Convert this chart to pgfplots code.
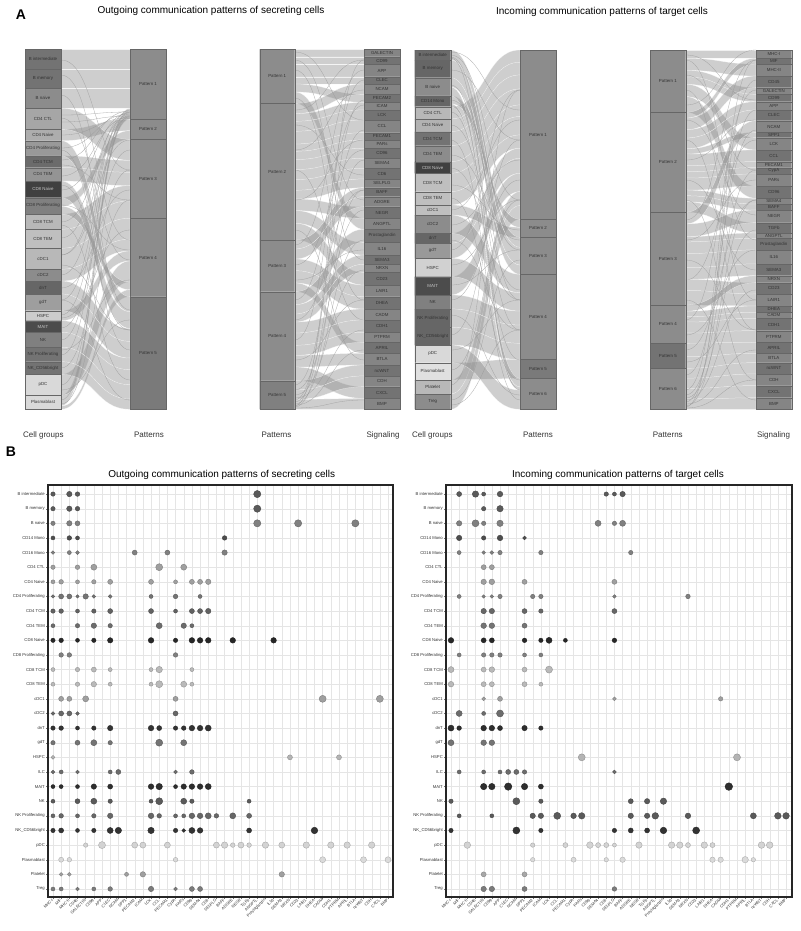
\documentclass[border=0pt]{standalone}
\usepackage{fontspec}
\setmainfont{Liberation Sans}
\usepackage{pgfplots}
\usepackage{pgfplotstable}
\pgfplotsset{compat=1.18}

\tikzset{
 ribbon/.style={fill=black!45, fill opacity=0.42, draw=white, draw opacity=0.7, line width=0.25pt},
 flowline/.style={draw=black!40, line width=0.3pt, opacity=0.8},
 blk/.style={font=\fontsize{4.4}{5}\selectfont, text=black!80, inner sep=0pt}
}
\newcommand{\rib}[7]{\path[ribbon] (axis cs:#1,#4) .. controls (axis cs:#3,#4) and (axis cs:#3,#6) .. (axis cs:#2,#6) -- (axis cs:#2,#7) .. controls (axis cs:#3,#7) and (axis cs:#3,#5) .. (axis cs:#1,#5) -- cycle;}
\newcommand{\lin}[5]{\path[flowline] (axis cs:#1,#4) .. controls (axis cs:#3,#4) and (axis cs:#3,#5) .. (axis cs:#2,#5);}
\newcommand{\ribA}[4]{\rib{61}{130}{95.5}{#1}{#2}{#3}{#4}}
\newcommand{\ribB}[4]{\rib{294.7}{364}{329.3}{#1}{#2}{#3}{#4}}
\newcommand{\ribC}[4]{\rib{450.7}{520}{485.3}{#1}{#2}{#3}{#4}}
\newcommand{\ribD}[4]{\rib{685.7}{756}{720.8}{#1}{#2}{#3}{#4}}
\newcommand{\linA}[2]{\lin{61}{130}{95.5}{#1}{#2}}
\newcommand{\linB}[2]{\lin{294.7}{364}{329.3}{#1}{#2}}
\newcommand{\linC}[2]{\lin{450.7}{520}{485.3}{#1}{#2}}
\newcommand{\linD}[2]{\lin{685.7}{756}{720.8}{#1}{#2}}
\newcommand{\blk}[6]{\addplot[fill=black!#5, draw=black!60, line width=0.4pt] coordinates {(#1,#3) (#2,#3) (#2,#4) (#1,#4) (#1,#3)};
 \path (axis cs:#1,#3) -- node[blk] {#6} (axis cs:#2,#4);}
\newcommand{\blkd}[6]{\addplot[fill=black!#5, draw=black!60, line width=0.4pt] coordinates {(#1,#3) (#2,#3) (#2,#4) (#1,#4) (#1,#3)};
 \path (axis cs:#1,#3) -- node[blk, text=black!22] {#6} (axis cs:#2,#4);}

\pgfplotstableread{
x y r g
0 0 2.2 .35
2 0 2.7 .35
3 0 2.3 .35
25 0 3.6 .35
0 1 2.2 .35
2 1 2.7 .35
3 1 2.3 .35
25 1 3.6 .35
0 2 2.2 .5
2 2 2.7 .5
3 2 2.5 .5
25 2 3.6 .5
30 2 3.6 .5
37 2 3.6 .5
0 3 2 .3
2 3 2.3 .3
3 3 2 .3
21 3 2.3 .3
0 4 1.8 .5
2 4 2 .5
3 4 1.9 .5
10 4 2.5 .5
14 4 2.5 .5
21 4 2.7 .5
0 5 2.2 .62
3 5 2.3 .62
5 5 3 .62
13 5 3.5 .62
16 5 3 .62
0 6 2 .62
1 6 2.3 .62
3 6 2 .62
5 6 2.2 .62
7 6 2.5 .62
12 6 2.5 .62
15 6 2 .62
17 6 2.5 .62
18 6 2.5 .62
19 6 2.7 .62
0 7 1.7 .45
1 7 2.5 .45
2 7 2.5 .45
3 7 1.7 .45
4 7 2.7 .45
5 7 1.8 .45
7 7 1.9 .45
12 7 2 .45
15 7 2.3 .45
18 7 2 .45
0 8 2.2 .38
1 8 2.3 .38
3 8 2 .38
5 8 2.2 .38
7 8 2.5 .38
12 8 2.5 .38
15 8 2 .38
17 8 2.5 .38
18 8 2.5 .38
19 8 2.7 .38
0 9 2 .42
3 9 2.2 .42
5 9 2.7 .42
7 9 2.2 .42
13 9 3 .42
16 9 2.7 .42
17 9 2 .42
0 10 2.2 .15
1 10 2.3 .15
3 10 2 .15
5 10 2.2 .15
7 10 2.7 .15
12 10 2.8 .15
15 10 2.2 .15
17 10 2.8 .15
18 10 2.8 .15
19 10 2.8 .15
22 10 2.8 .15
27 10 2.8 .15
1 11 2.3 .5
2 11 2.3 .5
15 11 2.3 .5
0 12 2 .72
3 12 2.2 .72
5 12 2.5 .72
7 12 2 .72
12 12 2 .72
13 12 3.2 .72
17 12 2 .72
0 13 2 .72
3 13 2.2 .72
5 13 2.7 .72
7 13 2 .72
12 13 2 .72
13 13 3.5 .72
16 13 3 .72
17 13 2 .72
1 14 2.5 .62
2 14 2.5 .62
4 14 3 .62
15 14 2.5 .62
33 14 3.5 .62
40 14 3.5 .62
0 15 1.9 .4
1 15 2.5 .4
2 15 2.5 .4
3 15 1.9 .4
15 15 2.5 .4
0 16 2.2 .2
1 16 2.3 .2
3 16 2 .2
5 16 2.2 .2
7 16 2.7 .2
12 16 2.8 .2
13 16 2.5 .2
15 16 2.2 .2
16 16 2.3 .2
17 16 2.8 .2
18 16 2.8 .2
19 16 3 .2
0 17 2.2 .45
3 17 2.5 .45
5 17 3 .45
7 17 2.2 .45
13 17 3.5 .45
16 17 3 .45
0 18 1.9 .7
29 18 2.5 .7
35 18 2.5 .7
0 19 1.9 .42
1 19 2 .42
3 19 1.9 .42
7 19 2 .42
8 19 2.5 .42
15 19 1.9 .42
17 19 2.3 .42
0 20 2 .18
1 20 2 .18
3 20 2 .18
5 20 2.7 .18
7 20 2.5 .18
12 20 2.8 .18
13 20 3.2 .18
15 20 2 .18
16 20 2.7 .18
17 20 2.8 .18
18 20 2.8 .18
19 20 3 .18
0 21 2 .35
3 21 2.5 .35
5 21 3 .35
7 21 2.2 .35
12 21 2 .35
13 21 3.5 .35
16 21 3 .35
17 21 2.2 .35
24 21 2 .35
0 22 2 .4
1 22 2.3 .4
3 22 2 .4
5 22 2.2 .4
7 22 2.7 .4
12 22 2.8 .4
13 22 2.3 .4
15 22 2 .4
16 22 2 .4
17 22 2.8 .4
18 22 2.8 .4
19 22 3 .4
20 22 2.3 .4
22 22 3 .4
24 22 2.5 .4
0 23 2.2 .2
1 23 2.5 .2
3 23 2 .2
5 23 2.2 .2
7 23 3 .2
8 23 3.2 .2
12 23 3.2 .2
15 23 2.2 .2
16 23 1.9 .2
17 23 3 .2
18 23 2.8 .2
24 23 2.5 .2
32 23 3.3 .2
4 24 2.2 .82
6 24 3.5 .82
10 24 3 .82
11 24 3 .82
14 24 3 .82
20 24 3 .82
21 24 3.2 .82
22 24 2.3 .82
23 24 3 .82
24 24 2.3 .82
26 24 3.2 .82
28 24 3 .82
31 24 3.2 .82
34 24 3.2 .82
36 24 3.2 .82
39 24 3.2 .82
1 25 2.5 .85
2 25 2.3 .85
15 25 2.3 .85
33 25 3 .85
38 25 3 .85
41 25 3 .85
1 26 1.9 .62
2 26 1.9 .62
9 26 2 .62
11 26 2.7 .62
28 26 2.7 .62
0 27 2 .48
1 27 2 .48
3 27 1.9 .48
5 27 2 .48
7 27 2.3 .48
12 27 2.7 .48
15 27 1.9 .48
17 27 2.5 .48
18 27 2.5 .48
}\outdata

\pgfplotstableread{
x y r g
1 0 2.5 .35
3 0 3.2 .35
4 0 2 .35
6 0 2.8 .35
19 0 2.2 .35
20 0 2 .35
21 0 2.7 .35
4 1 2.2 .35
6 1 3.2 .35
1 2 2.7 .5
3 2 3.5 .5
4 2 2.2 .5
6 2 3.2 .5
18 2 3 .5
20 2 2.2 .5
21 2 3 .5
1 3 2.7 .3
4 3 2.2 .3
6 3 2.8 .3
9 3 1.9 .3
1 4 2 .5
4 4 1.8 .5
5 4 1.9 .5
6 4 2.2 .5
11 4 2.2 .5
22 4 2.2 .5
4 5 2.5 .62
5 5 2.5 .62
4 6 2.7 .62
5 6 2.8 .62
9 6 2.5 .62
20 6 2.5 .62
1 7 2 .5
4 7 1.7 .5
5 7 1.8 .5
6 7 2.2 .5
10 7 2.2 .5
11 7 2.2 .5
20 7 1.8 .5
29 7 2.3 .5
4 8 2.7 .4
5 8 2.7 .4
9 8 2.5 .4
11 8 2.2 .4
20 8 2.5 .4
4 9 2.8 .45
5 9 2.8 .45
9 9 2.5 .45
0 10 2.8 .15
4 10 2.5 .15
5 10 2.5 .15
9 10 2.3 .15
11 10 2.2 .15
12 10 3 .15
14 10 2 .15
20 10 2.3 .15
1 11 2 .5
4 11 2.2 .5
5 11 2.2 .5
6 11 2.2 .5
9 11 2 .5
11 11 2 .5
0 12 3 .72
4 12 2.5 .72
5 12 2.8 .72
9 12 2.5 .72
12 12 3.5 .72
0 13 2.8 .72
4 13 2.5 .72
5 13 2.5 .72
9 13 2.5 .72
11 13 2 .72
4 14 1.9 .62
6 14 2.5 .62
20 14 1.9 .62
33 14 2.2 .62
1 15 3 .42
4 15 2 .42
6 15 3.5 .42
0 16 3 .18
1 16 2.3 .18
4 16 2.8 .18
5 16 2.8 .18
6 16 2.5 .18
9 16 2.7 .18
11 16 2.2 .18
0 17 3 .45
4 17 2.8 .45
5 17 2.8 .45
16 18 3.5 .7
35 18 3.5 .7
1 19 2 .42
4 19 2 .42
6 19 2 .42
7 19 2.5 .42
8 19 2.5 .42
9 19 2.2 .42
20 19 1.9 .42
4 20 3.2 .18
5 20 3.2 .18
7 20 3.7 .18
9 20 3.2 .18
11 20 2.5 .18
34 20 3.8 .18
0 21 2.2 .35
8 21 3.5 .35
11 21 2.2 .35
22 21 2.5 .35
24 21 2.7 .35
26 21 3.2 .35
1 22 2 .35
5 22 2 .35
10 22 2.7 .35
11 22 2.7 .35
13 22 3.5 .35
15 22 2.8 .35
16 22 3.2 .35
22 22 2.7 .35
24 22 2.7 .35
25 22 3.3 .35
29 22 2.8 .35
37 22 3 .35
40 22 3.3 .35
41 22 3.3 .35
0 23 2.2 .2
8 23 3.5 .2
11 23 2.2 .2
20 23 2.2 .2
22 23 2.5 .2
24 23 2.5 .2
26 23 3.3 .2
30 23 3.5 .2
2 24 3.3 .82
10 24 2.2 .82
14 24 2.5 .82
17 24 3.3 .82
18 24 2.5 .82
19 24 2.5 .82
20 24 2 .82
23 24 3.2 .82
27 24 3.2 .82
28 24 3.2 .82
29 24 2.5 .82
31 24 3.2 .82
32 24 2.5 .82
38 24 3.3 .82
39 24 3.3 .82
10 25 2.2 .85
15 25 2.5 .85
19 25 2.2 .85
21 25 2.7 .85
32 25 2.7 .85
33 25 2.7 .85
36 25 3.2 .85
37 25 2.2 .85
4 26 2.5 .65
9 26 2.5 .65
4 27 2.7 .48
5 27 2.7 .48
9 27 2.5 .48
20 27 2.3 .48
}\indata

\pgfplotsset{
 dotaxis/.style={
  scale only axis, width=345pt, height=412pt,
  ymin=-27.55, ymax=0.62,
  xtick={0,...,41}, ytick={-27,...,0},
  xticklabels={MHC-I,MIF,MHC-II,CD45,GALECTIN,CD99,APP,CLEC,NCAM,SPP1,PECAM2,ICAM,LCK,CCL,PECAM1,CypA,PARs,CD96,SEMA4,CD6,SELPLG,BAFF,ADGRE,NEGR,TGFb,ANGPTL,Prostaglandin,IL16,SEMA3,NRXN,CD23,LAIR1,DHEA,CADM,CDH1,PTPRM,APRIL,BTLA,ncWNT,CDH,CXCL,BMP},
  yticklabels={Treg,Platelet,Plasmablast,pDC,NK\_CD56bright,NK Proliferating,NK,MAIT,ILC,HSPC,gdT,dnT,cDC2,cDC1,CD8 TEM,CD8 TCM,CD8 Proliferating,CD8 Naive,CD4 TEM,CD4 TCM,CD4 Proliferating,CD4 Naive,CD4 CTL,CD16 Mono,CD14 Mono,B naive,B memory,B intermediate},
  grid=major, major grid style={black!10, line width=0.35pt},
  tick align=outside, xtick pos=bottom, ytick pos=left, major tick length=2pt,
  tick style={black!55, line width=0.35pt},
  axis line style={black!85, line width=1.1pt},
  x tick label style={rotate=45, anchor=east, font=\fontsize{4}{4}\selectfont, inner sep=0.5pt, text=black!80},
  y tick label style={font=\fontsize{4.2}{4.2}\selectfont, inner sep=1pt, text=black!80},
  colormap/blackwhite, point meta min=0, point meta max=1, clip=false},
 dots/.style={scatter, only marks, mark=*, scatter src=explicit,
  visualization depends on={\thisrow{r} \as \psize},
  scatter/@pre marker code/.append style={/tikz/mark size=\psize}}
}

\begin{document}
\begin{tikzpicture}
\path[use as bounding box, fill=white] (0pt,0pt) rectangle (800pt,-931pt);

\begin{axis}[at={(0pt,0pt)}, anchor=north west, scale only axis, width=800pt, height=445pt,
  xmin=0, xmax=800, ymin=0, ymax=445, y dir=reverse, hide axis, clip=false]
% ---------- ribbons: outgoing cells -> patterns
\ribA{49.3}{69.3}{49.3}{69.3}
\ribA{69.3}{88.3}{69.3}{88.3}
\ribA{88.3}{108.3}{88.3}{108.3}
\ribA{395.3}{406}{108.3}{119.3}
\ribA{129.3}{140.7}{119.3}{130.7}
\ribA{197.7}{206.3}{130.7}{139.3}
\ribA{108.3}{129.3}{139.3}{160.3}
\ribA{155.7}{167.7}{160.3}{172.3}
\ribA{167.7}{181}{172.3}{185.6}
\ribA{214}{229.3}{185.6}{200.9}
\ribA{229.3}{248.3}{200.9}{218.3}
\ribA{248.3}{269.3}{218.3}{239.3}
\ribA{269.3}{281}{239.3}{251}
\ribA{310.7}{320.7}{251}{261}
\ribA{374.3}{395.3}{261}{282}
\ribA{206.3}{214}{282}{289.7}
\ribA{406}{409.3}{289.7}{296.7}
\ribA{140.7}{155.7}{296.7}{311.7}
\ribA{181}{197.7}{311.7}{328.4}
\ribA{281}{294}{328.4}{341.4}
\ribA{294}{310.7}{341.4}{358.1}
\ribA{320.7}{332.3}{358.1}{369.7}
\ribA{332.3}{347.3}{369.7}{384.7}
\ribA{347.3}{361.7}{384.7}{399.1}
\ribA{361.7}{374.3}{399.1}{409.3}
\linA{60}{170}\linA{75}{240}\linA{95}{310}\linA{115}{112}\linA{122}{116}\linA{135}{118}
\linA{148}{114}\linA{160}{111}\linA{176}{117}\linA{190}{113}\linA{222}{116}\linA{238}{112}
\linA{255}{118}\linA{275}{114}\linA{300}{110}\linA{315}{117}\linA{340}{115}\linA{355}{112}
\linA{385}{118}\linA{400}{116}\linA{118}{260}\linA{150}{350}\linA{165}{200}\linA{185}{330}
\linA{205}{250}\linA{225}{380}\linA{255}{140}\linA{265}{330}\linA{288}{190}\linA{300}{400}
\linA{318}{230}\linA{328}{150}\linA{350}{280}\linA{368}{170}\linA{390}{320}\linA{404}{200}
% ---------- ribbons: outgoing patterns -> signaling
\ribB{49.3}{56.7}{49.3}{56.7}
\ribB{56.7}{64.3}{56.7}{64.3}
\ribB{64.3}{76.7}{64.3}{76.7}
\ribB{76.7}{84}{76.7}{84}
\ribB{84}{92}{94.3}{102.3}
\ribB{92}{103.3}{218.3}{229.3}
\ribB{103.3}{113.6}{84}{94.3}
\ribB{113.6}{121.3}{102.3}{110}
\ribB{121.3}{131.3}{110}{120}
\ribB{131.3}{144}{120}{132.7}
\ribB{144}{151.3}{132.7}{140}
\ribB{151.3}{159.6}{140}{148.3}
\ribB{159.6}{169.6}{148.3}{158.3}
\ribB{169.6}{179.6}{158.3}{168.3}
\ribB{179.6}{190.3}{168.3}{179}
\ribB{190.3}{199}{179}{187.7}
\ribB{199}{210.6}{206.7}{218.3}
\ribB{210.6}{223.3}{242.3}{255}
\ribB{223.3}{240}{272.3}{285}
\ribB{240}{249}{187.7}{196.7}
\ribB{249}{259}{196.7}{206.7}
\ribB{259}{270.7}{285}{296.7}
\ribB{270.7}{283}{296.7}{309}
\ribB{283}{291.7}{342.3}{353.3}
\ribB{291.7}{304.7}{229.3}{242.3}
\ribB{304.7}{314}{255}{264.3}
\ribB{314}{322}{264.3}{272.3}
\ribB{322}{333}{309}{320}
\ribB{333}{345.3}{320}{332.3}
\ribB{345.3}{355.3}{332.3}{342.3}
\ribB{355.3}{367}{353.3}{365}
\ribB{367}{380.7}{386.7}{398.3}
\ribB{380.7}{390}{365}{376}
\ribB{390}{399.5}{376}{386.7}
\ribB{399.5}{409.3}{398.3}{409.3}
\linB{52}{120}\linB{60}{200}\linB{70}{260}\linB{98}{300}\linB{110}{60}\linB{125}{175}
\linB{150}{90}\linB{170}{320}\linB{200}{140}\linB{230}{360}\linB{245}{70}\linB{265}{150}
\linB{280}{250}\linB{300}{105}\linB{320}{190}\linB{340}{80}\linB{360}{300}\linB{385}{130}
\linB{390}{210}\linB{395}{270}\linB{398}{330}\linB{400}{100}\linB{402}{160}\linB{404}{240}
\linB{405}{350}\linB{406}{60}\linB{407}{190}\linB{408}{400}
% ---------- ribbons: incoming cells -> patterns
\ribC{106.7}{119}{50}{62.3}
\ribC{119}{131.7}{62.3}{75}
\ribC{131.7}{145.7}{75}{89}
\ribC{145.7}{161.7}{89}{105}
\ribC{161.7}{173.3}{105}{116.6}
\ribC{173.3}{191.7}{116.6}{135}
\ribC{191.7}{205}{135}{148.3}
\ribC{233.3}{243.3}{148.3}{158.3}
\ribC{243.3}{258.3}{158.3}{173.3}
\ribC{276.7}{295}{173.3}{191.6}
\ribC{380}{394}{191.6}{205.6}
\ribC{394}{409.3}{205.6}{219.3}
\ribC{95.7}{103.7}{219.3}{227.3}
\ribC{205}{215}{227.3}{237.3}
\ribC{50}{60}{237.3}{247.3}
\ribC{60}{77.7}{247.3}{265}
\ribC{77.7}{87}{265}{274.3}
\ribC{215}{233.3}{274.3}{292.6}
\ribC{258.3}{276.7}{292.6}{311}
\ribC{295}{309}{311}{325}
\ribC{309}{327.3}{325}{343.3}
\ribC{327.3}{345}{343.3}{359.3}
\ribC{362.7}{380}{359.3}{378.3}
\ribC{87}{95.7}{378.3}{387}
\ribC{103.7}{106.7}{387}{390}
\ribC{345}{362.7}{390}{409.3}
\linC{52}{110}\linC{55}{200}\linC{57}{300}\linC{58}{390}\linC{70}{140}\linC{85}{330}
\linC{100}{250}\linC{112}{360}\linC{125}{290}\linC{140}{400}\linC{155}{240}\linC{168}{300}
\linC{185}{230}\linC{198}{380}\linC{210}{120}\linC{225}{160}\linC{240}{330}\linC{250}{90}
\linC{265}{200}\linC{285}{250}\linC{300}{180}\linC{315}{395}\linC{335}{140}\linC{350}{300}
\linC{370}{200}\linC{385}{90}\linC{400}{260}\linC{405}{330}
% ---------- ribbons: incoming patterns -> signaling
\ribD{50}{58.3}{50}{58.3}
\ribD{58.3}{70.3}{64}{76}
\ribD{70.3}{76.9}{87.7}{94.3}
\ribD{76.9}{84.3}{94.3}{101.7}
\ribD{84.3}{96.6}{137.7}{150}
\ribD{96.6}{112.3}{186}{198.3}
\ribD{112.3}{118}{58.3}{64}
\ribD{118}{129.7}{76}{87.7}
\ribD{129.7}{138}{101.7}{110}
\ribD{138}{148.7}{110}{120.7}
\ribD{148.7}{154.1}{132.3}{137.7}
\ribD{154.1}{165.8}{150}{161.7}
\ribD{165.8}{171.8}{161.7}{167.7}
\ribD{171.8}{178.1}{167.7}{174}
\ribD{178.1}{190.1}{174}{186}
\ribD{190.1}{195.8}{198.3}{204}
\ribD{195.8}{201.8}{204}{210}
\ribD{201.8}{212.3}{222.7}{233}
\ribD{212.3}{223.9}{120.7}{132.3}
\ribD{223.9}{236.6}{210}{222.7}
\ribD{236.6}{241.9}{233}{238.3}
\ribD{241.9}{253.6}{238.3}{250}
\ribD{253.6}{267.6}{250}{264}
\ribD{267.6}{279.3}{264}{275.7}
\ribD{279.3}{290.6}{282.7}{294}
\ribD{290.6}{305}{294}{306}
\ribD{305}{311.2}{275.7}{282.7}
\ribD{311.2}{316.8}{306}{312.3}
\ribD{316.8}{322.1}{312.3}{318.3}
\ribD{322.1}{333.1}{318.3}{330.7}
\ribD{333.1}{343.3}{330.7}{342.3}
\ribD{343.3}{356.8}{342.3}{353.3}
\ribD{356.8}{368.3}{353.3}{362.7}
\ribD{368.3}{378.2}{362.7}{374}
\ribD{378.2}{388.5}{374}{385.7}
\ribD{388.5}{399.1}{385.7}{397.7}
\ribD{399.1}{409.3}{397.7}{409.3}
\linD{55}{100}\linD{60}{240}\linD{75}{170}\linD{90}{300}\linD{105}{50}\linD{120}{215}
\linD{140}{330}\linD{160}{120}\linD{180}{270}\linD{200}{380}\linD{220}{60}\linD{240}{180}
\linD{260}{330}\linD{280}{140}\linD{300}{400}\linD{320}{90}\linD{335}{250}\linD{350}{200}
\linD{362}{300}\linD{375}{130}\linD{390}{60}\linD{395}{170}\linD{398}{230}\linD{400}{290}
\linD{402}{110}\linD{404}{350}\linD{406}{200}\linD{407}{80}\linD{408}{380}
% ---------- blocks: plot 1 cells
\blk{25}{61}{49.3}{69.3}{55}{B intermediate}
\blk{25}{61}{69.3}{88.3}{55}{B memory}
\blk{25}{61}{88.3}{108.3}{45}{B naive}
\blk{25}{61}{108.3}{129.3}{35}{CD4 CTL}
\blk{25}{61}{129.3}{140.7}{32}{CD4 Naive}
\blk{25}{61}{140.7}{155.7}{40}{CD4 Proliferating}
\blk{25}{61}{155.7}{167.7}{58}{CD4 TCM}
\blk{25}{61}{167.7}{181}{42}{CD4 TEM}
\blkd{25}{61}{181}{197.7}{75}{CD8 Naive}
\blk{25}{61}{197.7}{214}{50}{CD8 Proliferating}
\blk{25}{61}{214}{229.3}{28}{CD8 TCM}
\blk{25}{61}{229.3}{248.3}{25}{CD8 TEM}
\blk{25}{61}{248.3}{269.3}{28}{cDC1}
\blk{25}{61}{269.3}{281}{45}{cDC2}
\blk{25}{61}{281}{294}{60}{dnT}
\blk{25}{61}{294}{310.7}{38}{gdT}
\blk{25}{61}{310.7}{320.7}{20}{HSPC}
\blkd{25}{61}{320.7}{332.3}{70}{MAIT}
\blk{25}{61}{332.3}{347.3}{50}{NK}
\blk{25}{61}{347.3}{361.7}{55}{NK Proliferating}
\blk{25}{61}{361.7}{374.3}{55}{NK\_CD56bright}
\blk{25}{61}{374.3}{395.3}{15}{pDC}
\blk{25}{61}{395.3}{409.3}{15}{Plasmablast}
% plot 1 patterns
\blk{130}{166}{49.3}{119.3}{45}{Pattern 1}
\blk{130}{166}{119.3}{139.3}{45}{Pattern 2}
\blk{130}{166}{139.3}{218.3}{45}{Pattern 3}
\blk{130}{166}{218.3}{296.7}{45}{Pattern 4}
\blk{130}{166}{296.7}{409.3}{52}{Pattern 5}
% plot 2 patterns
\blk{259.7}{294.7}{49.3}{103.3}{45}{Pattern 1}
\blk{259.7}{294.7}{103.3}{240}{45}{Pattern 2}
\blk{259.7}{294.7}{240}{291.7}{45}{Pattern 3}
\blk{259.7}{294.7}{291.7}{380.7}{45}{Pattern 4}
\blk{259.7}{294.7}{380.7}{409.3}{50}{Pattern 5}
% plot 2 signaling
\blk{364}{400}{49.3}{56.7}{48}{GALECTIN}
\blk{364}{400}{56.7}{64.3}{55}{CD99}
\blk{364}{400}{64.3}{76.7}{48}{APP}
\blk{364}{400}{76.7}{84}{55}{CLEC}
\blk{364}{400}{84}{94.3}{48}{NCAM}
\blk{364}{400}{94.3}{102.3}{55}{PECAM2}
\blk{364}{400}{102.3}{110}{48}{ICAM}
\blk{364}{400}{110}{120}{55}{LCK}
\blk{364}{400}{120}{132.7}{48}{CCL}
\blk{364}{400}{132.7}{140}{55}{PECAM1}
\blk{364}{400}{140}{148.3}{48}{PARs}
\blk{364}{400}{148.3}{158.3}{55}{CD96}
\blk{364}{400}{158.3}{168.3}{48}{SEMA4}
\blk{364}{400}{168.3}{179}{55}{CD6}
\blk{364}{400}{179}{187.7}{48}{SELPLG}
\blk{364}{400}{187.7}{196.7}{55}{BAFF}
\blk{364}{400}{196.7}{206.7}{48}{ADGRE}
\blk{364}{400}{206.7}{218.3}{55}{NEGR}
\blk{364}{400}{218.3}{229.3}{48}{ANGPTL}
\blk{364}{400}{229.3}{242.3}{55}{Prostaglandin}
\blk{364}{400}{242.3}{255}{48}{IL16}
\blk{364}{400}{255}{264.3}{55}{SEMA3}
\blk{364}{400}{264.3}{272.3}{48}{NRXN}
\blk{364}{400}{272.3}{285}{55}{CD23}
\blk{364}{400}{285}{296.7}{48}{LAIR1}
\blk{364}{400}{296.7}{309}{55}{DHEA}
\blk{364}{400}{309}{320}{48}{CADM}
\blk{364}{400}{320}{332.3}{55}{CDH1}
\blk{364}{400}{332.3}{342.3}{48}{PTPRM}
\blk{364}{400}{342.3}{353.3}{55}{APRIL}
\blk{364}{400}{353.3}{365}{48}{BTLA}
\blk{364}{400}{365}{376}{55}{ncWNT}
\blk{364}{400}{376}{386.7}{48}{CDH}
\blk{364}{400}{386.7}{398.3}{55}{CXCL}
\blk{364}{400}{398.3}{409.3}{48}{BMP}
% plot 3 cells
\blk{414.7}{450.7}{50}{60}{58}{B intermediate}
\blk{414.7}{450.7}{60}{77.7}{60}{B memory}
\blk{414.7}{450.7}{77.7}{95.7}{45}{B naive}
\blk{414.7}{450.7}{95.7}{106.7}{60}{CD14 Mono}
\blk{414.7}{450.7}{106.7}{119}{28}{CD4 CTL}
\blk{414.7}{450.7}{119}{131.7}{30}{CD4 Naive}
\blk{414.7}{450.7}{131.7}{145.7}{55}{CD4 TCM}
\blk{414.7}{450.7}{145.7}{161.7}{45}{CD4 TEM}
\blkd{414.7}{450.7}{161.7}{173.3}{75}{CD8 Naive}
\blk{414.7}{450.7}{173.3}{191.7}{25}{CD8 TCM}
\blk{414.7}{450.7}{191.7}{205}{25}{CD8 TEM}
\blk{414.7}{450.7}{205}{215}{25}{cDC1}
\blk{414.7}{450.7}{215}{233.3}{45}{cDC2}
\blk{414.7}{450.7}{233.3}{243.3}{60}{dnT}
\blk{414.7}{450.7}{243.3}{258.3}{40}{gdT}
\blk{414.7}{450.7}{258.3}{276.7}{18}{HSPC}
\blkd{414.7}{450.7}{276.7}{295}{70}{MAIT}
\blk{414.7}{450.7}{295}{309}{50}{NK}
\blk{414.7}{450.7}{309}{327.3}{60}{NK Proliferating}
\blk{414.7}{450.7}{327.3}{345}{60}{NK\_CD56bright}
\blk{414.7}{450.7}{345}{362.7}{15}{pDC}
\blk{414.7}{450.7}{362.7}{380}{12}{Plasmablast}
\blk{414.7}{450.7}{380}{394}{28}{Platelet}
\blk{414.7}{450.7}{394}{409.3}{45}{Treg}
% plot 3 patterns
\blk{520}{556}{50}{219.3}{45}{Pattern 1}
\blk{520}{556}{219.3}{237.3}{45}{Pattern 2}
\blk{520}{556}{237.3}{274.3}{45}{Pattern 3}
\blk{520}{556}{274.3}{359.3}{45}{Pattern 4}
\blk{520}{556}{359.3}{378.3}{52}{Pattern 5}
\blk{520}{556}{378.3}{409.3}{45}{Pattern 6}
% plot 4 patterns
\blk{650}{685.7}{50}{112.3}{45}{Pattern 1}
\blk{650}{685.7}{112.3}{212.3}{45}{Pattern 2}
\blk{650}{685.7}{212.3}{305}{45}{Pattern 3}
\blk{650}{685.7}{305}{343.3}{45}{Pattern 4}
\blk{650}{685.7}{343.3}{368.3}{55}{Pattern 5}
\blk{650}{685.7}{368.3}{409.3}{45}{Pattern 6}
% plot 4 signaling
\blk{756}{791.7}{50}{58.3}{48}{MHC-I}
\blk{756}{791.7}{58.3}{64}{55}{MIF}
\blk{756}{791.7}{64}{76}{48}{MHC-II}
\blk{756}{791.7}{76}{87.7}{55}{CD45}
\blk{756}{791.7}{87.7}{94.3}{48}{GALECTIN}
\blk{756}{791.7}{94.3}{101.7}{55}{CD99}
\blk{756}{791.7}{101.7}{110}{48}{APP}
\blk{756}{791.7}{110}{120.7}{55}{CLEC}
\blk{756}{791.7}{120.7}{132.3}{48}{NCAM}
\blk{756}{791.7}{132.3}{137.7}{55}{SPP1}
\blk{756}{791.7}{137.7}{150}{48}{LCK}
\blk{756}{791.7}{150}{161.7}{55}{CCL}
\blk{756}{791.7}{161.7}{167.7}{48}{PECAM1}
\blk{756}{791.7}{167.7}{174}{55}{CypA}
\blk{756}{791.7}{174}{186}{48}{PARs}
\blk{756}{791.7}{186}{198.3}{55}{CD96}
\blk{756}{791.7}{198.3}{204}{48}{SEMA4}
\blk{756}{791.7}{204}{210}{55}{BAFF}
\blk{756}{791.7}{210}{222.7}{48}{NEGR}
\blk{756}{791.7}{222.7}{233}{55}{TGFb}
\blk{756}{791.7}{233}{238.3}{48}{ANGPTL}
\blk{756}{791.7}{238.3}{250}{55}{Prostaglandin}
\blk{756}{791.7}{250}{264}{48}{IL16}
\blk{756}{791.7}{264}{275.7}{55}{SEMA3}
\blk{756}{791.7}{275.7}{282.7}{48}{NRXN}
\blk{756}{791.7}{282.7}{294}{55}{CD23}
\blk{756}{791.7}{294}{306}{48}{LAIR1}
\blk{756}{791.7}{306}{312.3}{55}{DHEA}
\blk{756}{791.7}{312.3}{318.3}{48}{CADM}
\blk{756}{791.7}{318.3}{330.7}{55}{CDH1}
\blk{756}{791.7}{330.7}{342.3}{48}{PTPRM}
\blk{756}{791.7}{342.3}{353.3}{55}{APRIL}
\blk{756}{791.7}{353.3}{362.7}{48}{BTLA}
\blk{756}{791.7}{362.7}{374}{55}{ncWNT}
\blk{756}{791.7}{374}{385.7}{48}{CDH}
\blk{756}{791.7}{385.7}{397.7}{55}{CXCL}
\blk{756}{791.7}{397.7}{409.3}{48}{BMP}
% ---------- titles and column labels
\node[font=\fontsize{14}{16}\selectfont\bfseries] at (axis cs:21,15) {A};
\node[font=\fontsize{10}{12}\selectfont] at (axis cs:211,11) {Outgoing communication patterns of secreting cells};
\node[font=\fontsize{10}{12}\selectfont] at (axis cs:602,12) {Incoming communication patterns of target cells};
\begin{scope}[every node/.style={font=\fontsize{8}{10}\selectfont, text=black!80}]
\node at (axis cs:43.3,435) {Cell groups};
\node at (axis cs:149,435) {Patterns};
\node at (axis cs:276.5,435) {Patterns};
\node at (axis cs:383,435) {Signaling};
\node at (axis cs:432.3,435) {Cell groups};
\node at (axis cs:538,435) {Patterns};
\node at (axis cs:667.8,435) {Patterns};
\node at (axis cs:773.5,435) {Signaling};
\end{scope}
\end{axis}

\node[font=\fontsize{14}{16}\selectfont\bfseries] at (11pt,-452pt) {B};
\node[font=\fontsize{10}{12}\selectfont] at (221.7pt,-475pt) {Outgoing communication patterns of secreting cells};
\node[font=\fontsize{10}{12}\selectfont] at (618pt,-475pt) {Incoming communication patterns of target cells};

\begin{axis}[at={(48pt,-485pt)}, anchor=north west, dotaxis, xmin=-0.61, xmax=41.61]
\addplot[dots] table[x=x, y expr=-\thisrow{y}, meta=g] {\outdata};
\end{axis}

\begin{axis}[at={(446pt,-485pt)}, anchor=north west, dotaxis, width=346pt, xmin=-0.61, xmax=41.73]
\addplot[dots] table[x=x, y expr=-\thisrow{y}, meta=g] {\indata};
\end{axis}
\end{tikzpicture}
\end{document}
